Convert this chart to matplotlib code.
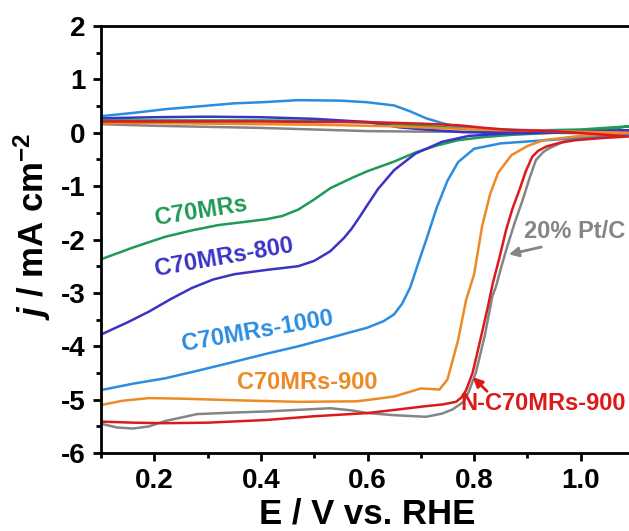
import matplotlib
matplotlib.use("Agg")
import matplotlib.pyplot as plt
from matplotlib.ticker import MultipleLocator

plt.rcParams['font.family'] = ['Liberation Sans', 'DejaVu Sans']
plt.rcParams['font.weight'] = 'bold'
plt.rcParams['axes.unicode_minus'] = False
plt.rcParams['mathtext.fontset'] = 'custom'
plt.rcParams['mathtext.rm'] = 'Liberation Sans:bold'
plt.rcParams['mathtext.it'] = 'Liberation Sans:italic:bold'
plt.rcParams['mathtext.bf'] = 'Liberation Sans:bold'
plt.rcParams['mathtext.default'] = 'regular'

# each sweep: cathodic branch 0.1 -> 1.09 V, then the return branch back to 0.1 V
c70_E = [0.10, 0.16, 0.22, 0.27, 0.32, 0.37, 0.41, 0.44, 0.47, 0.50, 0.53, 0.57, 0.60,
         0.65, 0.69, 0.73, 0.77, 0.82, 0.87, 0.93, 1.00, 1.05, 1.09,
         1.00, 0.90, 0.80, 0.70, 0.60, 0.50, 0.40, 0.30, 0.20, 0.10]
c70_j = [-2.37, -2.15, -1.95, -1.83, -1.73, -1.67, -1.62, -1.56, -1.44, -1.25, -1.04, -0.85, -0.72,
         -0.54, -0.37, -0.24, -0.14, -0.08, -0.04, -0.01, 0.02, 0.06, 0.12,
         0.06, 0.04, 0.07, 0.13, 0.19, 0.22, 0.23, 0.23, 0.23, 0.23]

c800_E = [0.10, 0.15, 0.19, 0.23, 0.27, 0.31, 0.35, 0.41, 0.47, 0.50, 0.53, 0.555,
          0.57, 0.585, 0.60, 0.62, 0.65, 0.69, 0.74, 0.79, 0.85, 0.95, 1.09,
          0.95, 0.85, 0.78, 0.72, 0.66, 0.60, 0.50, 0.40, 0.30, 0.20, 0.10]
c800_j = [-3.78, -3.55, -3.35, -3.12, -2.91, -2.75, -2.65, -2.57, -2.50, -2.40, -2.22, -1.98,
          -1.80, -1.58, -1.35, -1.05, -0.70, -0.39, -0.17, -0.06, -0.02, 0.00, 0.04,
          0.02, 0.00, 0.01, 0.05, 0.10, 0.20, 0.26, 0.29, 0.30, 0.29, 0.27]

c1000_E = [0.10, 0.16, 0.22, 0.28, 0.35, 0.41, 0.47, 0.53, 0.60, 0.63, 0.65, 0.665,
           0.68, 0.695, 0.71, 0.73, 0.75, 0.77, 0.80, 0.85, 0.92, 1.00, 1.09,
           0.95, 0.85, 0.80, 0.76, 0.74, 0.71, 0.68, 0.65, 0.60, 0.55, 0.47,
           0.40, 0.35, 0.28, 0.22, 0.16, 0.10]
c1000_j = [-4.82, -4.70, -4.60, -4.46, -4.29, -4.14, -4.00, -3.84, -3.65, -3.53, -3.40, -3.20,
           -2.90, -2.45, -2.01, -1.40, -0.90, -0.55, -0.30, -0.20, -0.15, -0.10, -0.05,
           0.04, 0.06, 0.09, 0.13, 0.18, 0.27, 0.40, 0.51, 0.57, 0.60, 0.61,
           0.57, 0.55, 0.49, 0.44, 0.37, 0.31]

c900_E = [0.10, 0.14, 0.19, 0.25, 0.35, 0.47, 0.58, 0.62, 0.65, 0.70, 0.72, 0.735,
          0.75, 0.76, 0.77, 0.785, 0.80, 0.815, 0.83, 0.845, 0.87, 0.90, 0.93, 0.99, 1.09,
          0.95, 0.85, 0.75, 0.65, 0.50, 0.40, 0.30, 0.20, 0.10]
c900_j = [-5.10, -5.02, -4.97, -4.98, -5.01, -5.04, -5.03, -4.98, -4.94, -4.79, -4.80, -4.81,
          -4.62, -4.25, -3.88, -3.13, -2.65, -1.75, -1.15, -0.75, -0.42, -0.25, -0.14, -0.07, 0.00,
          0.03, 0.05, 0.08, 0.12, 0.15, 0.16, 0.17, 0.18, 0.18]

nc900_E = [0.10, 0.16, 0.22, 0.30, 0.41, 0.50, 0.60, 0.66, 0.71, 0.74, 0.766, 0.776,
           0.785, 0.797, 0.806, 0.816, 0.826, 0.835, 0.848, 0.86, 0.872, 0.885, 0.897,
           0.909, 0.92, 0.935, 0.96, 0.99, 1.04, 1.09,
           0.95, 0.87, 0.82, 0.77, 0.70, 0.60, 0.50, 0.40, 0.30, 0.20, 0.10]
nc900_j = [-5.41, -5.43, -5.44, -5.43, -5.38, -5.31, -5.25, -5.18, -5.12, -5.09, -5.04, -4.96,
           -4.82, -4.50, -4.12, -3.69, -3.25, -2.82, -2.32, -1.82, -1.42, -1.07, -0.72,
           -0.45, -0.34, -0.26, -0.19, -0.14, -0.10, -0.07,
           0.03, 0.05, 0.09, 0.14, 0.17, 0.20, 0.20, 0.21, 0.21, 0.21, 0.21]

ptc_E = [0.10, 0.13, 0.16, 0.19, 0.22, 0.28, 0.35, 0.41, 0.47, 0.53, 0.57, 0.60,
         0.65, 0.71, 0.74, 0.76, 0.78, 0.79, 0.803, 0.82, 0.834, 0.841, 0.85, 0.86,
         0.875, 0.891, 0.905, 0.916, 0.93, 0.941, 0.97, 1.02, 1.09,
         0.90, 0.80, 0.70, 0.60, 0.50, 0.40, 0.30, 0.20, 0.10]
ptc_j = [-5.45, -5.52, -5.54, -5.50, -5.40, -5.27, -5.24, -5.22, -5.19, -5.16, -5.20, -5.25,
         -5.29, -5.32, -5.26, -5.18, -5.04, -4.85, -4.50, -3.80, -3.07, -2.88, -2.55, -2.20,
         -1.72, -1.26, -0.82, -0.51, -0.36, -0.29, -0.16, -0.07, -0.03,
         0.01, 0.02, 0.02, 0.03, 0.06, 0.09, 0.11, 0.13, 0.16]

green = '#1f9a55'
indigo = '#3b33c4'
sky = '#2b8de0'
orange = '#ee8a25'
red = '#dd1a1a'
grey = '#858585'

fig = plt.figure(figsize=(6.29, 5.31), dpi=100)
ax = fig.add_axes([0.1606, 0.1467, 0.8474, 0.8045])

lw = 1.8
ax.plot(ptc_E, ptc_j, color=grey, lw=lw)
ax.plot(c70_E, c70_j, color=green, lw=lw)
ax.plot(c800_E, c800_j, color=indigo, lw=lw)
ax.plot(c1000_E, c1000_j, color=sky, lw=lw)
ax.plot(c900_E, c900_j, color=orange, lw=lw)
ax.plot(nc900_E, nc900_j, color=red, lw=lw)

ax.set_xlim(0.1, 1.1)
ax.set_ylim(-6, 2)
ax.xaxis.set_major_locator(MultipleLocator(0.2))
ax.xaxis.set_minor_locator(MultipleLocator(0.1))
ax.yaxis.set_major_locator(MultipleLocator(1))
ax.yaxis.set_minor_locator(MultipleLocator(0.5))
ax.xaxis.set_major_formatter(lambda v, p: f"{v:.1f}")
ax.tick_params(which='both', direction='out', width=2, labelsize=20, top=False, right=False)
ax.tick_params(which='major', length=6, pad=5)
ax.tick_params(which='minor', length=3.5)
for s in ax.spines.values():
    s.set_linewidth(2)
for lab in ax.get_xticklabels() + ax.get_yticklabels():
    lab.set_fontweight('bold')

ax.set_xlabel('E / V vs. RHE', fontsize=25, fontweight='bold', labelpad=2)
ax.set_ylabel(r'$\mathit{j}$ / mA cm$^{-2}$', fontsize=25, fontweight='bold')
ax.yaxis.set_label_coords(-0.09, 0.53)

tk = dict(fontsize=17, fontweight='bold', va='center')
ax.text(0.287, -1.47, 'C70MRs', color=green, rotation=9, ha='center', **tk)
ax.text(0.33, -2.33, 'C70MRs-800', color=indigo, rotation=10, ha='center', **tk)
ax.text(0.393, -3.72, 'C70MRs-1000', color=sky, rotation=10, ha='center', **tk)
ax.text(0.487, -4.67, 'C70MRs-900', color=orange, ha='center', **tk)
ax.text(1.084, -1.85, '20% Pt/C', color=grey, ha='right', **tk)
ax.text(1.084, -5.07, 'N-C70MRs-900', color=red, ha='right', **tk)

ax.annotate('', xy=(0.86, -2.29), xytext=(0.931, -2.13),
            arrowprops=dict(arrowstyle='-|>', color=grey, lw=2, mutation_scale=14))
ax.annotate('', xy=(0.794, -4.54), xytext=(0.828, -4.88),
            arrowprops=dict(arrowstyle='-|>', color=red, lw=2, mutation_scale=14))

fig.savefig('out.png', dpi=100)
